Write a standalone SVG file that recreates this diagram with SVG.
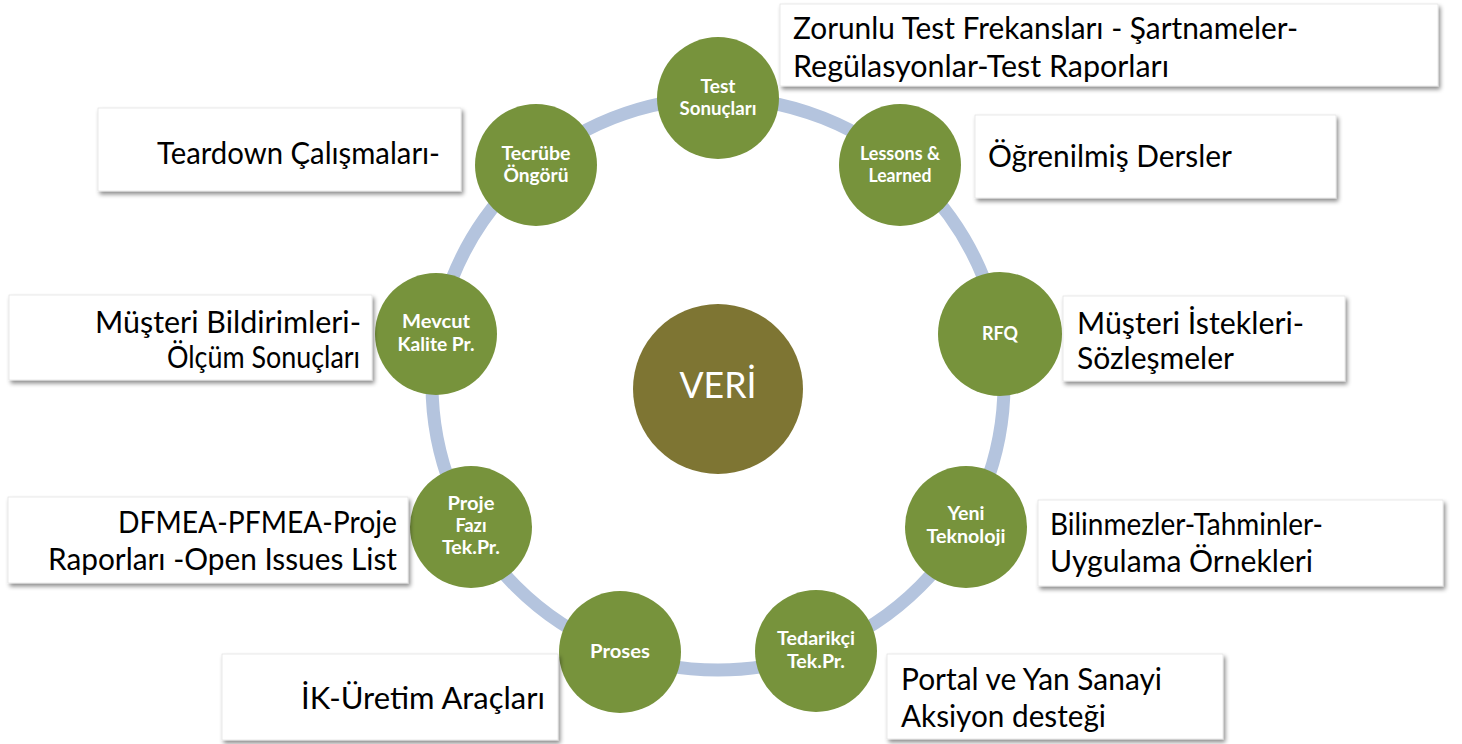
<svg xmlns="http://www.w3.org/2000/svg" width="1462" height="744" viewBox="0 0 1462 744">
<defs>
<filter id="sh" x="-10%" y="-10%" width="120%" height="130%">
<feDropShadow dx="2" dy="3" stdDeviation="2" flood-color="#000" flood-opacity="0.45"/>
</filter>
<style>
.ring{fill:none;stroke:#b4c4de;stroke-width:13}
.node{fill:#77933c}
.core{fill:#7e7533}
.nt{font-family:Lato,"Open Sans",sans-serif;font-weight:bold;font-size:18px;fill:#fff;text-anchor:middle}
.ct{font-family:Lato,"Open Sans",sans-serif;font-size:37px;fill:#fff;text-anchor:middle}
.box{fill:#fff;stroke:#e2e2e2;stroke-width:0.75;filter:url(#sh)}
.bt{font-family:Lato,"Open Sans",sans-serif;font-size:31px;fill:#000}
.r{text-anchor:end}
</style>
</defs>
<rect width="1462" height="744" fill="#fff"/>
<g id="connectors">
<circle class="ring" cx="718" cy="384" r="286"/>
</g>
<g id="veri">
<circle class="core" cx="718" cy="389" r="85"/>
<text class="ct" x="718" y="398" textLength="77" lengthAdjust="spacingAndGlyphs">VERİ</text>
</g>
<g id="test">
<circle class="node" cx="718" cy="98" r="61"/>
<text class="nt" x="718" y="93" textLength="35" lengthAdjust="spacingAndGlyphs">Test</text>
<text class="nt" x="718" y="115" textLength="77" lengthAdjust="spacingAndGlyphs">Sonuçları</text>
<rect class="box" x="780" y="4" width="658" height="82"/>
<text class="bt" x="793" y="39" textLength="505" lengthAdjust="spacingAndGlyphs">Zorunlu Test Frekansları - Şartnameler-</text>
<text class="bt" x="793" y="77" textLength="376" lengthAdjust="spacingAndGlyphs">Regülasyonlar-Test Raporları</text>
</g>
<g id="lessons">
<circle class="node" cx="900" cy="165" r="61"/>
<text class="nt" x="900" y="160" textLength="80" lengthAdjust="spacingAndGlyphs">Lessons &amp;</text>
<text class="nt" x="900" y="182" textLength="63" lengthAdjust="spacingAndGlyphs">Learned</text>
<rect class="box" x="975" y="115" width="361" height="83"/>
<text class="bt" x="988" y="167" textLength="244" lengthAdjust="spacingAndGlyphs">Öğrenilmiş Dersler</text>
</g>
<g id="rfq">
<circle class="node" cx="1000" cy="334" r="62"/>
<text class="nt" x="1000" y="340" textLength="36" lengthAdjust="spacingAndGlyphs">RFQ</text>
<rect class="box" x="1063" y="296" width="282" height="85"/>
<text class="bt" x="1077" y="334" textLength="227" lengthAdjust="spacingAndGlyphs">Müşteri İstekleri-</text>
<text class="bt" x="1077" y="369" textLength="157" lengthAdjust="spacingAndGlyphs">Sözleşmeler</text>
</g>
<g id="yeni">
<circle class="node" cx="966" cy="527" r="61"/>
<text class="nt" x="966" y="520" textLength="37" lengthAdjust="spacingAndGlyphs">Yeni</text>
<text class="nt" x="966" y="543" textLength="79" lengthAdjust="spacingAndGlyphs">Teknoloji</text>
<rect class="box" x="1038" y="500" width="405" height="86"/>
<text class="bt" x="1050" y="535" textLength="273" lengthAdjust="spacingAndGlyphs">Bilinmezler-Tahminler-</text>
<text class="bt" x="1050" y="572" textLength="263" lengthAdjust="spacingAndGlyphs">Uygulama Örnekleri</text>
</g>
<g id="tedarikci">
<circle class="node" cx="816" cy="651" r="61"/>
<text class="nt" x="816" y="645" textLength="78" lengthAdjust="spacingAndGlyphs">Tedarikçi</text>
<text class="nt" x="816" y="668" textLength="58" lengthAdjust="spacingAndGlyphs">Tek.Pr.</text>
<rect class="box" x="887" y="654" width="336" height="85"/>
<text class="bt" x="901" y="690" textLength="261" lengthAdjust="spacingAndGlyphs">Portal ve Yan Sanayi</text>
<text class="bt" x="901" y="727" textLength="205" lengthAdjust="spacingAndGlyphs">Aksiyon desteği</text>
</g>
<g id="proses">
<circle class="node" cx="620" cy="652" r="61"/>
<text class="nt" x="620" y="658" textLength="60" lengthAdjust="spacingAndGlyphs">Proses</text>
<rect class="box" x="222" y="654" width="336" height="86"/>
<text class="bt r" x="545" y="709" textLength="244" lengthAdjust="spacingAndGlyphs">İK-Üretim Araçları</text>
</g>
<g id="proje">
<circle class="node" cx="471" cy="527" r="61"/>
<text class="nt" x="471" y="510" textLength="47" lengthAdjust="spacingAndGlyphs">Proje</text>
<text class="nt" x="471" y="532" textLength="31" lengthAdjust="spacingAndGlyphs">Fazı</text>
<text class="nt" x="471" y="554" textLength="58" lengthAdjust="spacingAndGlyphs">Tek.Pr.</text>
<rect class="box" x="8" y="497" width="400" height="86"/>
<text class="bt r" x="397" y="533" textLength="279" lengthAdjust="spacingAndGlyphs">DFMEA-PFMEA-Proje</text>
<text class="bt r" x="397" y="570" textLength="349" lengthAdjust="spacingAndGlyphs">Raporları -Open Issues List</text>
</g>
<g id="mevcut">
<circle class="node" cx="436" cy="334" r="61"/>
<text class="nt" x="436" y="328" textLength="68" lengthAdjust="spacingAndGlyphs">Mevcut</text>
<text class="nt" x="436" y="351" textLength="77" lengthAdjust="spacingAndGlyphs">Kalite Pr.</text>
<rect class="box" x="9" y="295" width="363" height="85"/>
<text class="bt r" x="361" y="333" textLength="266" lengthAdjust="spacingAndGlyphs">Müşteri Bildirimleri-</text>
<text class="bt r" x="360" y="368" textLength="193" lengthAdjust="spacingAndGlyphs">Ölçüm Sonuçları</text>
</g>
<g id="tecrube">
<circle class="node" cx="536" cy="165" r="61"/>
<text class="nt" x="536" y="160" textLength="69" lengthAdjust="spacingAndGlyphs">Tecrübe</text>
<text class="nt" x="536" y="182" textLength="65" lengthAdjust="spacingAndGlyphs">Öngörü</text>
<rect class="box" x="98" y="108" width="363" height="83"/>
<text class="bt r" x="440" y="164" textLength="283" lengthAdjust="spacingAndGlyphs">Teardown Çalışmaları-</text>
</g>
</svg>
